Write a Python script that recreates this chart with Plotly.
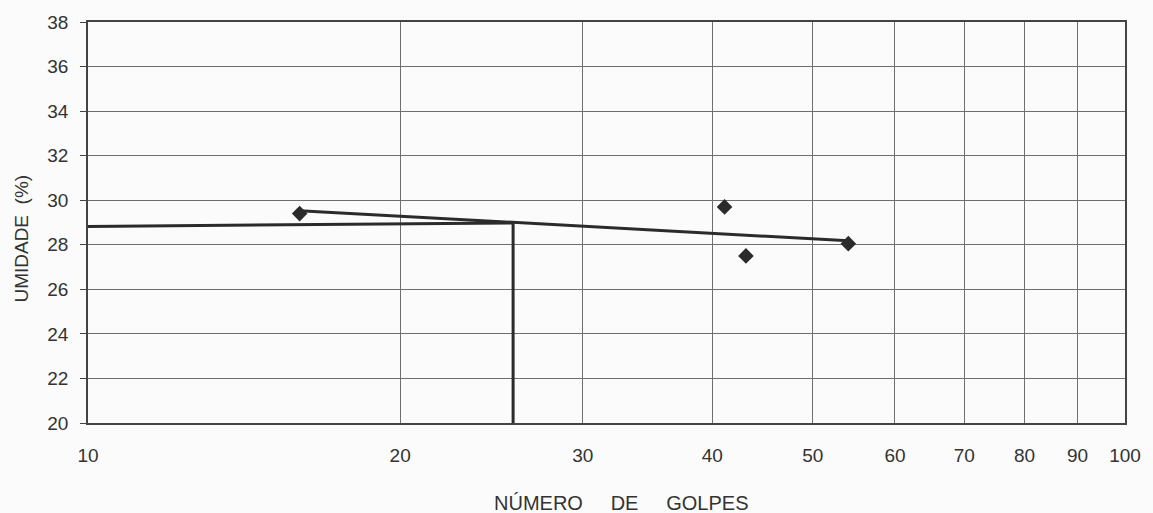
import plotly.graph_objects as go

# Data
golpes = [16.0, 41.1, 43.1, 54.1]
umidade = [29.4, 29.7, 27.5, 28.05]

trend_x = [16.0, 54.1]
trend_y = [29.53, 28.18]

ll_x = [10, 25.7, 25.7]
ll_y = [28.82, 28.98, 20]

x_ticks = [10, 20, 30, 40, 50, 60, 70, 80, 90, 100]
x_tick_text = [str(v) for v in x_ticks]
y_ticks = [20, 22, 24, 26, 28, 30, 32, 34, 36, 38]

FONT = "Liberation Sans, Arial, sans-serif"
DARK = "#2b2b2b"
GRID = "#6e6e6e"
BG = "#fbfbfb"

fig = go.Figure()
fig.add_trace(go.Scatter(x=ll_x, y=ll_y, mode="lines",
                         line=dict(color=DARK, width=3), showlegend=False))
fig.add_trace(go.Scatter(x=trend_x, y=trend_y, mode="lines",
                         line=dict(color=DARK, width=3), showlegend=False))
fig.add_trace(go.Scatter(x=golpes, y=umidade, mode="markers",
                         marker=dict(symbol="diamond", size=12, color=DARK),
                         showlegend=False))

fig.update_layout(
    width=1153, height=513,
    margin=dict(l=88, r=23, t=18, b=90),
    paper_bgcolor=BG, plot_bgcolor=BG,
    font=dict(family=FONT, size=19, color="#333333"),
    xaxis=dict(type="log", range=[1, 2], tickvals=x_ticks, ticktext=x_tick_text,
               showgrid=True, gridcolor=GRID, gridwidth=1,
               showline=True, linecolor="#444444", linewidth=1.5, mirror=True,
               ticks="", ticklabelstandoff=14, zeroline=False),
    yaxis=dict(range=[20, 38], tickvals=y_ticks,
               showgrid=True, gridcolor=GRID, gridwidth=1,
               showline=True, linecolor="#444444", linewidth=1.5, mirror=True,
               ticks="outside", ticklen=6, tickcolor="#444444",
               ticklabelstandoff=8, zeroline=False),
    annotations=[
        dict(text="UMIDADE\u00a0\u00a0(%)", xref="paper", yref="paper",
             x=-0.064, y=0.459, textangle=-90, showarrow=False,
             xanchor="center", yanchor="middle", font=dict(size=19)),
        dict(text="NÚMERO" + "\u00a0" * 5 + "DE" + "\u00a0" * 5 + "GOLPES",
             xref="paper", yref="paper", x=0.5144, y=-0.2, showarrow=False,
             xanchor="center", yanchor="middle", font=dict(size=20)),
    ],
)

fig.write_html("out.html")
